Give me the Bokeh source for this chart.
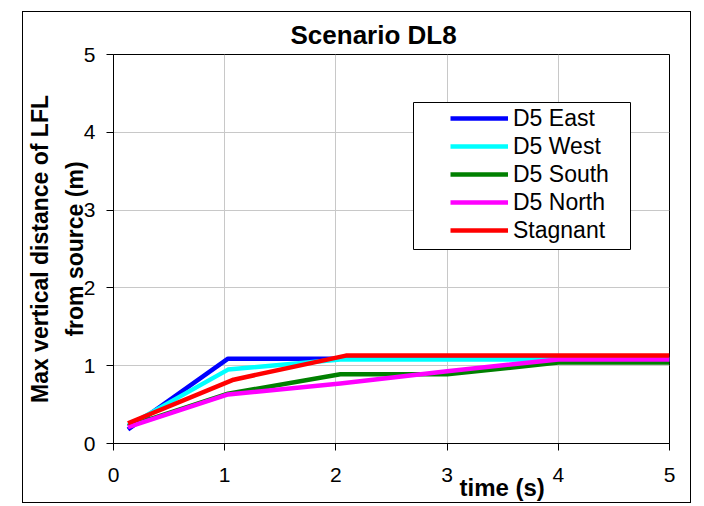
from bokeh.plotting import figure
from bokeh.models import Legend, LegendItem, BoxAnnotation, FixedTicker, Range1d, Title
from bokeh.embed import file_html
from bokeh.resources import INLINE

# ---- data ----
time_main = [0.13, 1.03, 2.04, 3.0, 4.0, 5.0]
time_stagnant = [0.13, 1.08, 2.09, 3.0, 4.0, 5.0]
d5_east = [0.18, 1.09, 1.09, 1.09, 1.09, 1.09]
d5_west = [0.23, 0.95, 1.08, 1.08, 1.08, 1.08]
d5_south = [0.22, 0.64, 0.89, 0.89, 1.04, 1.04]
d5_north = [0.21, 0.63, 0.77, 0.93, 1.08, 1.08]
stagnant = [0.26, 0.82, 1.13, 1.13, 1.13, 1.13]
series_names = ["D5 East", "D5 West", "D5 South", "D5 North", "Stagnant"]
series_colors = ["#0000FF", "#00FFFF", "#008000", "#FF00FF", "#FF0000"]
ticks = [0, 1, 2, 3, 4, 5]

FONT = "Liberation Sans"

p = figure(width=669, height=492, x_range=Range1d(0, 5), y_range=Range1d(0, 5),
           output_backend="svg", toolbar_location=None,
           min_border_left=90, min_border_right=23, min_border_top=42, min_border_bottom=61)
p.margin = (11, 0, 0, 22)
p.styles = {"border": "1px solid black"}

p.title.text = "Scenario DL8"
p.title.align = "left"
p.title.offset = 177
p.title.text_font = FONT
p.title.text_font_size = "26px"
p.title.text_font_style = "bold"
p.title.text_color = "black"
p.title.standoff = 10

for ax in (p.xaxis[0], p.yaxis[0]):
    ax.ticker = FixedTicker(ticks=ticks)
    ax.major_tick_in = 0
    ax.major_tick_out = 7
    ax.minor_tick_line_color = None
    ax.axis_line_color = "black"
    ax.major_tick_line_color = "black"
    ax.major_label_text_font = FONT
    ax.major_label_text_font_size = "21px"
    ax.major_label_text_color = "black"
p.xaxis.major_label_standoff = 17
p.yaxis.major_label_standoff = 11

p.yaxis.axis_label = "Max vertical distance of LFL\nfrom source (m)"
p.yaxis.axis_label_text_font = FONT
p.yaxis.axis_label_text_font_size = "23px"
p.yaxis.axis_label_text_font_style = "bold"
p.yaxis.axis_label_text_color = "black"
p.yaxis.axis_label_text_line_height = 1.33
p.yaxis.axis_label_standoff = -7

p.add_layout(Title(text="time (s)", align="left", offset=346, standoff=-25,
                   text_font=FONT, text_font_size="24px", text_font_style="bold",
                   text_color="black"), "below")

p.xgrid.ticker = FixedTicker(ticks=ticks)
p.ygrid.ticker = FixedTicker(ticks=ticks)
p.grid.grid_line_color = "#c8c8c8"
p.grid.grid_line_width = 1
p.outline_line_color = "black"
p.outline_line_alpha = 1

xs_list = [time_main, time_main, time_main, time_main, time_stagnant]
ys_list = [d5_east, d5_west, d5_south, d5_north, stagnant]
renderers = []
for xs, ys, c in zip(xs_list, ys_list, series_colors):
    r = p.line(xs, ys, line_color=c, line_width=4.5, line_join="round")
    renderers.append(r)

box = BoxAnnotation(left=300, right=517, bottom=194, top=341,
                    left_units="screen", right_units="screen",
                    bottom_units="screen", top_units="screen",
                    fill_color="white", fill_alpha=1.0,
                    line_color="black", line_width=1, line_alpha=1.0)
p.add_layout(box)

legend = Legend(items=[LegendItem(label=n, renderers=[r]) for n, r in zip(series_names, renderers)],
                location=(337, 199), padding=0, margin=0, spacing=0,
                border_line_alpha=0, background_fill_alpha=0,
                glyph_width=58, glyph_height=28, label_height=28,
                label_standoff=5, label_text_font=FONT, label_text_font_size="23px",
                label_text_color="black")
p.add_layout(legend)

open("out.html", "w").write(file_html(p, INLINE))
